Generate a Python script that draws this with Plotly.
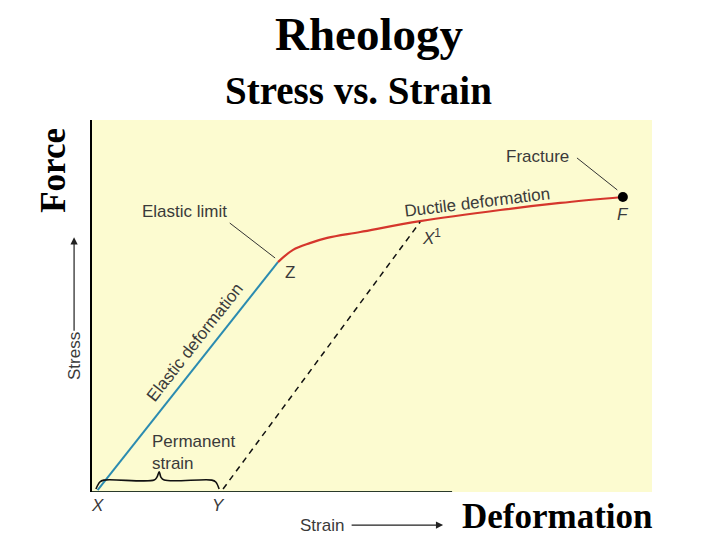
import plotly.graph_objects as go

# ---- data (0-100 plot units) ----
elastic_x = [1.0, 33.2]
elastic_y = [0.5, 61.8]

ductile_x = [33.2, 35.9, 38.9, 42.0, 47.9, 58.6, 72.9, 83.6, 94.8]
ductile_y = [61.8, 65.1, 66.9, 68.3, 69.9, 72.8, 75.8, 77.7, 79.3]

unload_x = [23.4, 58.6]
unload_y = [0.8, 72.6]

fracture_x = [94.8]
fracture_y = [79.3]

brace_x = [0.7, 1.4, 2.1, 11.1, 11.6, 12.0, 12.3, 12.9, 21.4, 22.1, 22.7]
brace_y = [0.8, 2.7, 3.2, 3.2, 4.0, 5.4, 4.0, 3.2, 3.2, 2.7, 0.8]

baseline_x = [0.0, 64.3]
baseline_y = [0.0, 0.0]

leader_limit_x = [24.6, 32.7]
leader_limit_y = [72.3, 62.9]
leader_frac_x = [86.6, 93.8]
leader_frac_y = [89.8, 81.2]

BLUE = "#2B8BB0"
RED = "#D5362C"
LABEL = "#3a3a3a"
SANS = "Liberation Sans, Arial, sans-serif"
SERIF = "Liberation Serif, Times New Roman, serif"

fig = go.Figure()

def line(x, y, color, width, dash="solid", shape="linear"):
    fig.add_trace(go.Scatter(x=x, y=y, mode="lines", cliponaxis=False,
                             line=dict(color=color, width=width, dash=dash, shape=shape),
                             hoverinfo="skip", showlegend=False))

line(baseline_x, baseline_y, "#2a3a2a", 2)
line(elastic_x, elastic_y, BLUE, 2)
line(ductile_x, ductile_y, RED, 2.2, shape="spline")
line(unload_x, unload_y, "#111111", 1.5, dash="6px,5px")
line(brace_x, brace_y, "#111111", 1.6, shape="spline")
line(leader_limit_x, leader_limit_y, "#333333", 1)
line(leader_frac_x, leader_frac_y, "#333333", 1)

fig.add_trace(go.Scatter(x=fracture_x, y=fracture_y, mode="markers", cliponaxis=False,
                         marker=dict(color="black", size=10), hoverinfo="skip",
                         showlegend=False))

def label(text, x, y, size=17, angle=0, font=SANS, color=LABEL, xanchor="center", align="center"):
    # positions given in 0-100 plot units, placed on paper so they may lie outside the axes
    fig.add_annotation(x=x / 100, y=y / 100, xref="paper", yref="paper", text=text,
                       showarrow=False, textangle=angle,
                       xanchor=xanchor, yanchor="middle", align=align,
                       font=dict(family=font, size=size, color=color))

label("Elastic limit", 16.6, 75.3)
label("Z", 35.4, 59.1)
label("Elastic deformation", 18.4, 40.1, angle=-52)
label("Ductile deformation", 68.75, 77.7, angle=-7)
label("<i>X</i><sup>1</sup>", 60.7, 68.5)
label("Fracture", 79.5, 90.1)
label("<i>F</i>", 94.8, 74.7)
label("Permanent<br>strain", 10.4, 10.75, xanchor="left", align="left")
label("<i>X</i>", 0.9, -3.5)
label("<i>Y</i>", 22.5, -3.5)
label("Stress", -3.0, 36.6, angle=-90)
label("Strain", 41.1, -8.9)

# titles
label("<b>Rheology</b>", 49.5, 123.0, size=47, font=SERIF, color="black")
label("<b>Stress vs. Strain</b>", 47.5, 107.8, size=39, font=SERIF, color="black")
label("<b>Force</b>", -6.8, 86.6, size=35, angle=-90, font=SERIF, color="black")
label("<b>Deformation</b>", 83.2, -6.6, size=35, font=SERIF, color="black")

# arrows (head in plot units, tail as pixel offset)
for (hx, hy, dx, dy) in [(-3.2, 68.5, 0, 95), (62.7, -8.9, -93, 0)]:
    fig.add_annotation(x=hx / 100, y=hy / 100, xref="paper", yref="paper",
                       ax=dx, ay=dy, axref="pixel", ayref="pixel",
                       text="", showarrow=True, arrowhead=2, arrowsize=1.2,
                       arrowwidth=1.2, arrowcolor="#222222")

fig.update_layout(
    width=720, height=540,
    margin=dict(l=84, r=76, t=112, b=56),
    paper_bgcolor="white", plot_bgcolor="#FCFBD0",
    showlegend=False,
)
fig.update_xaxes(range=[0, 100], showgrid=False, zeroline=False, showticklabels=False,
                 ticks="", showline=False)
fig.update_yaxes(range=[0, 100], showgrid=False, zeroline=False, showticklabels=False,
                 ticks="", showline=True, linecolor="black", linewidth=1.5)

fig.write_html("out.html")
